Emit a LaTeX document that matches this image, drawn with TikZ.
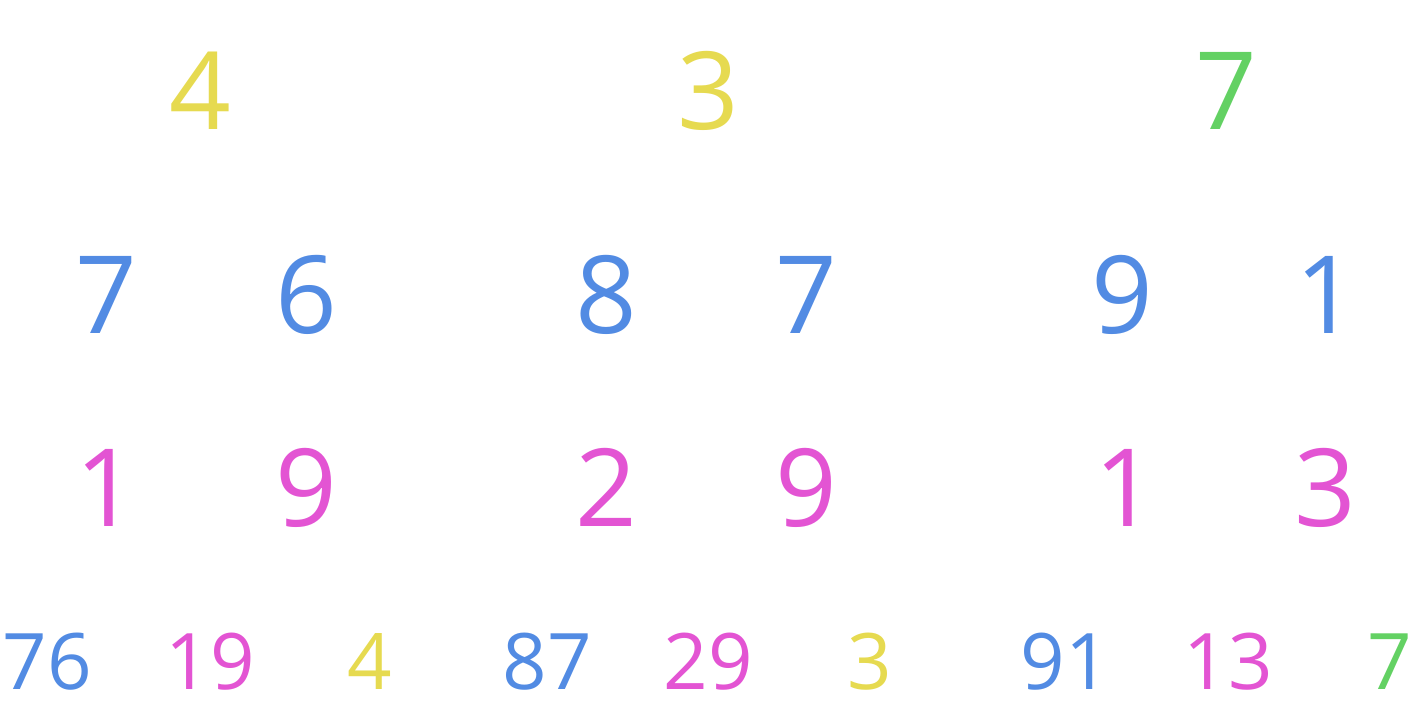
\documentclass[tikz,border=0pt]{standalone}
\usepackage{fontspec}
\setmainfont{Open Sans}
\usepackage{tikz}
\definecolor{dyellow}{HTML}{E6DA50}
\definecolor{dblue}{HTML}{528BE3}
\definecolor{dpink}{HTML}{E354D3}
\definecolor{dgreen}{HTML}{63D163}
\tikzset{
  big/.style={anchor=base,inner sep=0pt,font=\fontsize{54}{54}\selectfont},
  small/.style={anchor=base,inner sep=0pt,font=\fontsize{39}{39}\selectfont}
}

\begin{document}
\begin{tikzpicture}[x=0.5pt,y=-0.5pt]
\useasboundingbox (0,0) rectangle (1416,708);
% top row
\node[big,text=dyellow] (ta) at (200,129) {4};
\node[big,text=dyellow] (tb) at (708,129) {3};
\node[big,text=dgreen] (tc) at (1226,129) {7};
% second row
\node[big,text=dblue] (ma1) at (106,333) {7};
\node[big,text=dblue] (ma2) at (306,333) {6};
\node[big,text=dblue] (mb1) at (606,333) {8};
\node[big,text=dblue] (mb2) at (806,333) {7};
\node[big,text=dblue] (mc1) at (1122,333) {9};
\node[big,text=dblue] (mc2) at (1326,333) {1};
% third row
\node[big,text=dpink] (la1) at (106,526) {1};
\node[big,text=dpink] (la2) at (306,526) {9};
\node[big,text=dpink] (lb1) at (606,526) {2};
\node[big,text=dpink] (lb2) at (806,526) {9};
\node[big,text=dpink] (lc1) at (1125,526) {1};
\node[big,text=dpink] (lc2) at (1325,526) {3};
% bottom row
\node[small,text=dblue] (ba1) at (47,689) {76};
\node[small,text=dpink] (ba2) at (210,689) {19};
\node[small,text=dyellow] (ba3) at (370,689) {4};
\node[small,text=dblue] (bb1) at (547,689) {87};
\node[small,text=dpink] (bb2) at (708,689) {29};
\node[small,text=dyellow] (bb3) at (870,689) {3};
\node[small,text=dblue] (bc1) at (1065,689) {91};
\node[small,text=dpink] (bc2) at (1228,689) {13};
\node[small,text=dgreen] (bc3) at (1390,689) {7};
\end{tikzpicture}
\end{document}
